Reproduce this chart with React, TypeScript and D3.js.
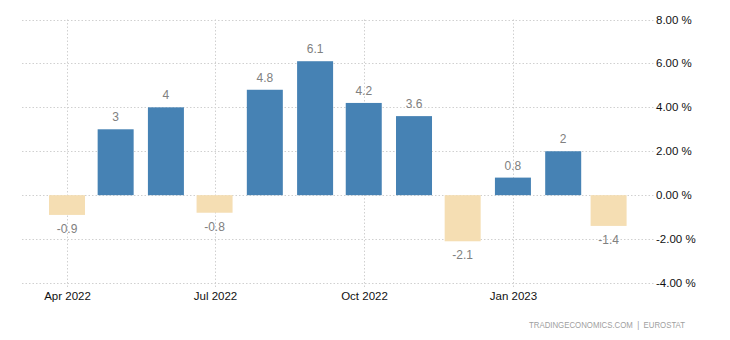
import React from "react";
import * as d3 from "d3";

const months: string[] = [
  "2022-04", "2022-05", "2022-06", "2022-07", "2022-08", "2022-09",
  "2022-10", "2022-11", "2022-12", "2023-01", "2023-02", "2023-03",
];
const values: number[] = [-0.9, 3, 4, -0.8, 4.8, 6.1, 4.2, 3.6, -2.1, 0.8, 2, -1.4];
const yTicks: number[] = [8, 6, 4, 2, 0, -2, -4];
const xTickMonths: string[] = ["2022-04", "2022-07", "2022-10", "2023-01"];
const xTickLabels: string[] = ["Apr 2022", "Jul 2022", "Oct 2022", "Jan 2023"];
const sourceText = "TRADINGECONOMICS.COM  |  EUROSTAT";

const W = 730;
const H = 340;
const plotLeft = 22;
const plotRight = 655;
const barW = 36;

const parse = (s: string) => {
  const [y, m] = s.split("-").map(Number);
  return new Date(y, m - 1, 1);
};

export default function App() {
  const x = d3
    .scaleTime()
    .domain([parse("2022-04"), parse("2023-03")])
    .range([67, 608.6]);
  const y = d3.scaleLinear().domain([-4, 8]).range([283, 19.5]);
  const fmt = (v: number) => `${v.toFixed(2)} %`;

  return (
    <svg
      width={W}
      height={H}
      style={{ position: "absolute", left: 0, top: 0 }}
      fontFamily="'Liberation Sans', Arial, sans-serif"
    >
      <rect width={W} height={H} fill="#fff" />
      {yTicks.map((t) => (
        <g key={"y" + t}>
          <line
            x1={plotLeft}
            x2={plotRight}
            y1={Math.round(y(t)) + 0.5}
            y2={Math.round(y(t)) + 0.5}
            stroke="#d0d0d0"
            strokeDasharray="1.5,2"
          />
          <text x={656} y={y(t) + 4} fontSize={11.5} fill="#111">
            {fmt(t)}
          </text>
        </g>
      ))}
      {xTickMonths.map((m, i) => {
        const px = Math.round(x(parse(m))) + 0.5;
        return (
          <g key={"x" + m}>
            <line
              x1={px}
              x2={px}
              y1={y(8)}
              y2={y(-4) + 5}
              stroke="#d0d0d0"
              strokeDasharray="1.5,2"
            />
            <text x={px} y={300} fontSize={11.5} fill="#111" textAnchor="middle">
              {xTickLabels[i]}
            </text>
          </g>
        );
      })}
      {values.map((v, i) => {
        const cx = x(parse(months[i]));
        const y0 = y(0);
        const y1 = y(v);
        return (
          <g key={"b" + i}>
            <rect
              x={cx - barW / 2}
              y={Math.min(y0, y1)}
              width={barW}
              height={Math.abs(y1 - y0)}
              fill={v >= 0 ? "#4682b4" : "#f5deb3"}
            />
            <text
              x={cx}
              y={v >= 0 ? y1 - 8 : y1 + 18}
              fontSize={12}
              fill="#808080"
              textAnchor="middle"
            >
              {String(v)}
            </text>
          </g>
        );
      })}
      <text
        x={529}
        y={328}
        fontSize={9.5}
        fill="#a0a0a0"
        textLength={156}
        lengthAdjust="spacingAndGlyphs"
        style={{ whiteSpace: "pre" }}
      >
        {sourceText}
      </text>
    </svg>
  );
}
